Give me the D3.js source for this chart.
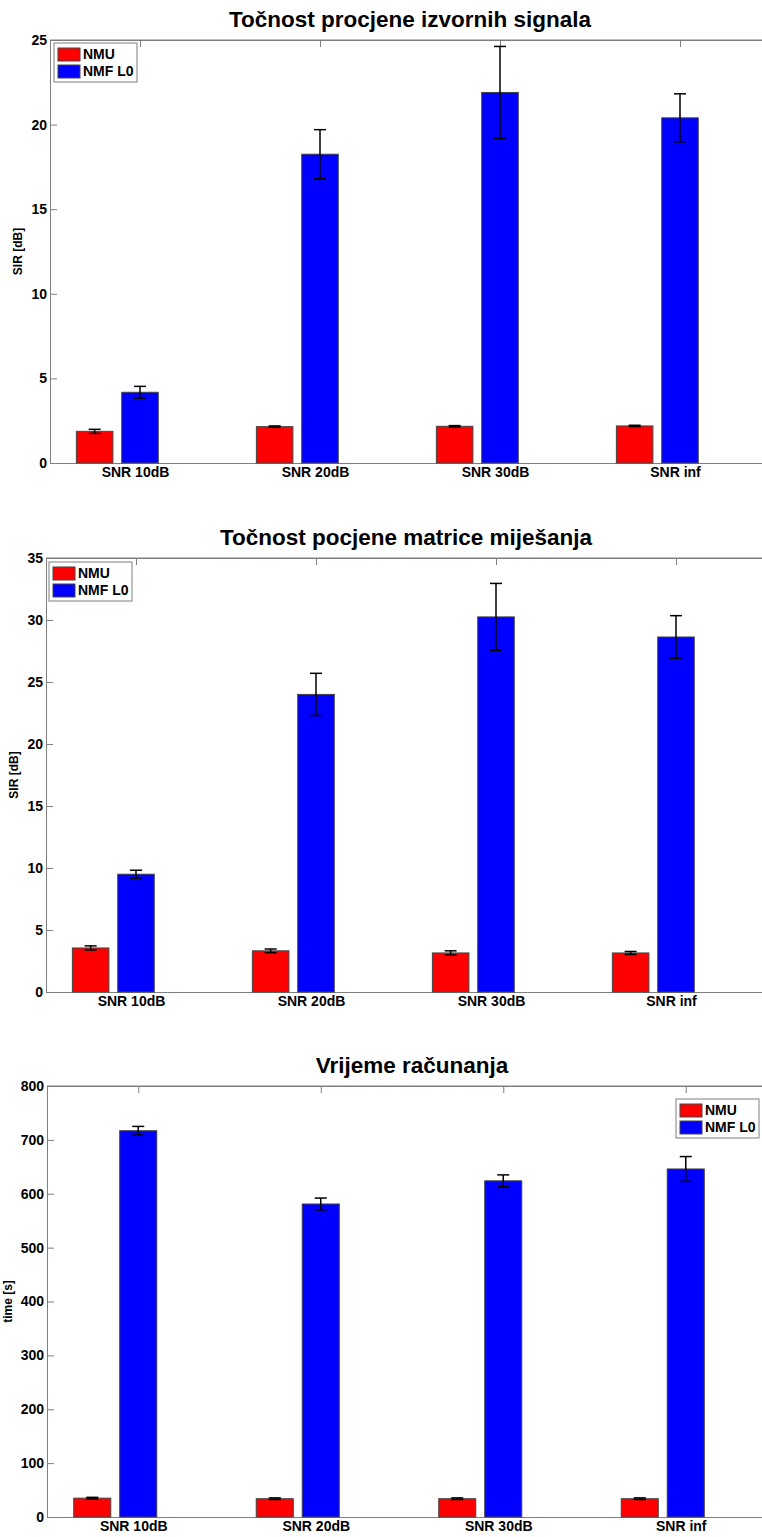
<!DOCTYPE html>
<html>
<head>
<meta charset="utf-8">
<script src="https://cdn.jsdelivr.net/npm/d3@7"></script>
<style>
  body { margin: 0; background: #fff; overflow: hidden; }
  text { font-family: "Liberation Sans", Arial, sans-serif; font-weight: bold; }
</style>
</head>
<body>
<script>
// categories and series
var categories = ["SNR 10dB", "SNR 20dB", "SNR 30dB", "SNR inf"]
var seriesNames = ["NMU", "NMF L0"]
var colors = ["#ff0000", "#0000ff"]

// panel 1 - source estimation SIR [dB]
var srcNMU = [1.87, 2.15, 2.17, 2.19]
var srcNMUErr = [0.12, 0.04, 0.04, 0.04]
var srcL0 = [4.18, 18.25, 21.9, 20.4]
var srcL0Err = [0.35, 1.45, 2.72, 1.42]
var srcTicks = [0, 5, 10, 15, 20, 25]

// panel 2 - mixing matrix SIR [dB]
var mixNMU = [3.55, 3.32, 3.15, 3.15]
var mixNMUErr = [0.17, 0.15, 0.17, 0.12]
var mixL0 = [9.5, 24.0, 30.25, 28.63]
var mixL0Err = [0.32, 1.7, 2.7, 1.72]
var mixTicks = [0, 5, 10, 15, 20, 25, 30, 35]

// panel 3 - computation time [s]
var timeNMU = [35, 34, 34, 34]
var timeNMUErr = [1.5, 1.5, 1.5, 1.5]
var timeL0 = [717, 581, 624, 646]
var timeL0Err = [8, 11, 11, 23]
var timeTicks = [0, 100, 200, 300, 400, 500, 600, 700, 800]

var W = 762, H = 1537

var svg = d3.select("body").append("svg")
    .attr("width", W).attr("height", H)

var panels = [
  {title: "Točnost procjene izvornih signala", ylabel: "SIR [dB]",
   vals: [srcNMU, srcL0], errs: [srcNMUErr, srcL0Err], ticks: srcTicks,
   left: 50, top: 40, bottom: 463, step: 180, titleY: 27, labelX: 22,
   legend: {x: 54, y: 43}},
  {title: "Točnost pocjene matrice miješanja", ylabel: "SIR [dB]",
   vals: [mixNMU, mixL0], errs: [mixNMUErr, mixL0Err], ticks: mixTicks,
   left: 46, top: 558, bottom: 992, step: 180, titleY: 545, labelX: 18,
   legend: {x: 49, y: 562}},
  {title: "Vrijeme računanja", ylabel: "time [s]",
   vals: [timeNMU, timeL0], errs: [timeNMUErr, timeL0Err], ticks: timeTicks,
   left: 47, top: 1086, bottom: 1517, step: 182.5, titleY: 1073, labelX: 12,
   legend: {x: 676, y: 1099}}
]

var axisColor = "#7f7f7f"

panels.forEach(function(p){
  var right = p.left + 4 * p.step
  var g = svg.append("g")

  var x = d3.scaleLinear().domain([0.5, 4.5]).range([p.left, right])
  var y = d3.scaleLinear()
      .domain([0, d3.max(p.ticks)])
      .range([p.bottom, p.top])

  // axes (drawn under the bars, like matlab)
  var ya = g.append("g").attr("transform", `translate(${p.left},0)`)
      .call(d3.axisLeft(y).tickValues(p.ticks).tickSizeInner(-7).tickSizeOuter(0).tickPadding(3))
  var xa = g.append("g").attr("transform", `translate(0,${p.bottom})`)
      .call(d3.axisBottom(x).tickValues([1, 2, 3, 4]).tickSizeInner(-7).tickSizeOuter(0)
        .tickPadding(4).tickFormat(function(d){ return categories[d - 1] }))
  var ta = g.append("g").attr("transform", `translate(0,${p.top})`)
      .call(d3.axisTop(x).tickValues([1, 2, 3, 4]).tickSizeInner(-7).tickSizeOuter(0).tickFormat(""))

  ;[ya, xa, ta].forEach(function(a){
    a.selectAll("path, line").attr("stroke", axisColor)
    a.selectAll("text").attr("fill", "#000").style("font-size", "14px")
  })
  xa.selectAll("text").attr("dx", -5)

  // title + y label
  g.append("text").attr("x", (p.left + right) / 2).attr("y", p.titleY)
      .attr("text-anchor", "middle").style("font-size", "22.5px").text(p.title)
  g.append("text")
      .attr("transform", `translate(${p.labelX},${(p.top + p.bottom) / 2}) rotate(-90)`)
      .attr("text-anchor", "middle").style("font-size", "12px").text(p.ylabel)

  // bars: NMU left of tick, NMF L0 on the tick
  var offsets = [-0.252, 0], bw = 0.203
  p.vals.forEach(function(vals, s){
    var bars = vals.map(function(v, i){ return {i: i + 1, v: v, e: p.errs[s][i]} })
    var sg = g.append("g")
    sg.selectAll("rect").data(bars).enter().append("rect")
        .attr("x", function(d){ return x(d.i + offsets[s] - bw / 2) })
        .attr("width", function(d){ return x(d.i + bw / 2) - x(d.i - bw / 2) })
        .attr("y", function(d){ return y(d.v) })
        .attr("height", function(d){ return y(0) - y(d.v) })
        .attr("fill", colors[s])
        .attr("stroke", "#444").attr("stroke-width", 1)

    var eb = sg.selectAll("g.err").data(bars).enter().append("g")
        .attr("stroke", "#000").attr("stroke-width", 1.5)
    eb.append("line")
        .attr("x1", function(d){ return x(d.i + offsets[s]) })
        .attr("x2", function(d){ return x(d.i + offsets[s]) })
        .attr("y1", function(d){ return y(d.v - d.e) })
        .attr("y2", function(d){ return y(d.v + d.e) })
    ;[-1, 1].forEach(function(sign){
      eb.append("line")
          .attr("x1", function(d){ return x(d.i + offsets[s]) - 6 })
          .attr("x2", function(d){ return x(d.i + offsets[s]) + 6 })
          .attr("y1", function(d){ return y(d.v + sign * d.e) })
          .attr("y2", function(d){ return y(d.v + sign * d.e) })
    })
  })

  // box top line
  g.append("line").attr("x1", p.left).attr("x2", right)
      .attr("y1", p.top).attr("y2", p.top).attr("stroke", axisColor)

  // legend
  var lg = g.append("g").attr("transform", `translate(${p.legend.x},${p.legend.y})`)
  lg.append("rect").attr("width", 83).attr("height", 39)
      .attr("fill", "#fff").attr("stroke", axisColor)
  seriesNames.forEach(function(name, s){
    lg.append("rect").attr("x", 4).attr("y", 5 + s * 17).attr("width", 22).attr("height", 13)
        .attr("fill", colors[s]).attr("stroke", "#444")
    lg.append("text").attr("x", 29).attr("y", 16 + s * 17)
        .style("font-size", "14px").text(name)
  })
})
</script>
</body>
</html>
